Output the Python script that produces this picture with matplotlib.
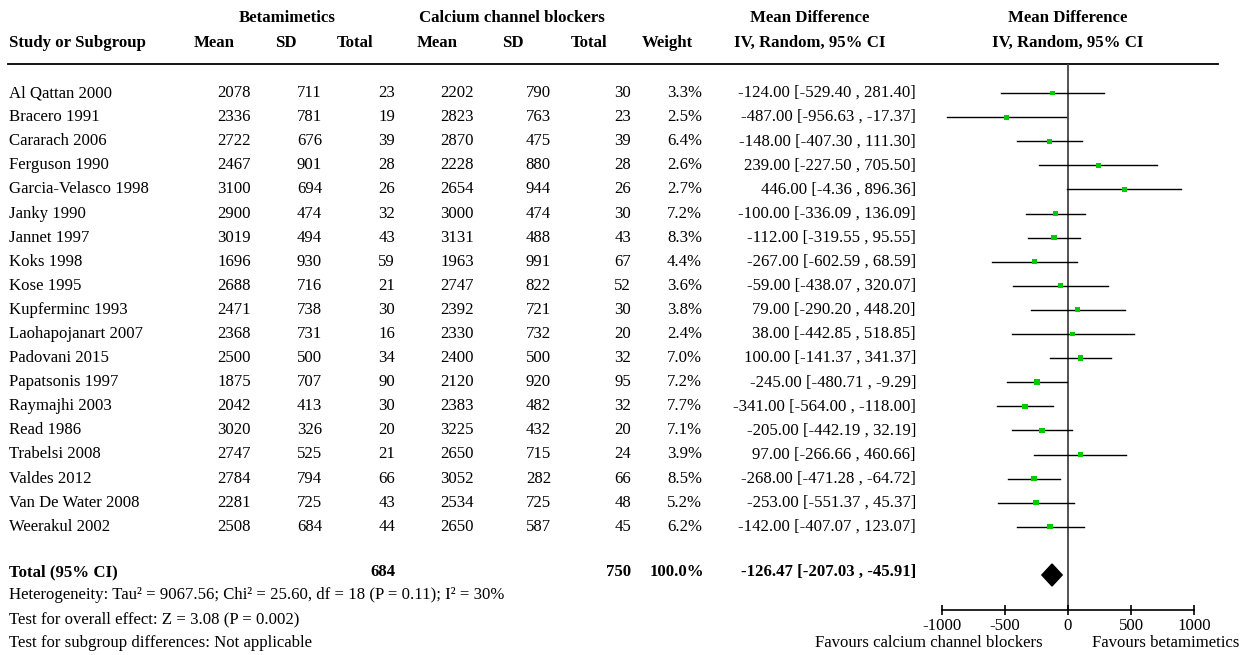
import matplotlib
matplotlib.use("Agg")
import matplotlib.pyplot as plt
from matplotlib.patches import Rectangle

plt.rcParams['font.family'] = ['Liberation Serif', 'DejaVu Serif']

studies = ["Al Qattan 2000", "Bracero 1991", "Cararach 2006", "Ferguson 1990",
           "Garcia-Velasco 1998", "Janky 1990", "Jannet 1997", "Koks 1998",
           "Kose 1995", "Kupferminc 1993", "Laohapojanart 2007", "Padovani 2015",
           "Papatsonis 1997", "Raymajhi 2003", "Read 1986", "Trabelsi 2008",
           "Valdes 2012", "Van De Water 2008", "Weerakul 2002"]
b_mean = [2078, 2336, 2722, 2467, 3100, 2900, 3019, 1696, 2688, 2471, 2368, 2500,
          1875, 2042, 3020, 2747, 2784, 2281, 2508]
b_sd = [711, 781, 676, 901, 694, 474, 494, 930, 716, 738, 731, 500, 707, 413, 326,
        525, 794, 725, 684]
b_n = [23, 19, 39, 28, 26, 32, 43, 59, 21, 30, 16, 34, 90, 30, 20, 21, 66, 43, 44]
c_mean = [2202, 2823, 2870, 2228, 2654, 3000, 3131, 1963, 2747, 2392, 2330, 2400,
          2120, 2383, 3225, 2650, 3052, 2534, 2650]
c_sd = [790, 763, 475, 880, 944, 474, 488, 991, 822, 721, 732, 500, 920, 482, 432,
        715, 282, 725, 587]
c_n = [30, 23, 39, 28, 26, 30, 43, 67, 52, 30, 20, 32, 95, 32, 20, 24, 66, 48, 45]
weight = [3.3, 2.5, 6.4, 2.6, 2.7, 7.2, 8.3, 4.4, 3.6, 3.8, 2.4, 7.0, 7.2, 7.7, 7.1,
          3.9, 8.5, 5.2, 6.2]
md = [-124.00, -487.00, -148.00, 239.00, 446.00, -100.00, -112.00, -267.00, -59.00,
      79.00, 38.00, 100.00, -245.00, -341.00, -205.00, 97.00, -268.00, -253.00, -142.00]
ci_lo = [-529.40, -956.63, -407.30, -227.50, -4.36, -336.09, -319.55, -602.59, -438.07,
         -290.20, -442.85, -141.37, -480.71, -564.00, -442.19, -266.66, -471.28, -551.37,
         -407.07]
ci_hi = [281.40, -17.37, 111.30, 705.50, 896.36, 136.09, 95.55, 68.59, 320.07, 448.20,
         518.85, 341.37, -9.29, -118.00, 32.19, 460.66, -64.72, 45.37, 123.07]
total_b_n = 684
total_c_n = 750
total_weight = "100.0%"
total_md, total_lo, total_hi = -126.47, -207.03, -45.91
xticks = [-1000, -500, 0, 500, 1000]
heterogeneity = "Heterogeneity: Tau² = 9067.56; Chi² = 25.60, df = 18 (P = 0.11); I² = 30%"
overall = "Test for overall effect: Z = 3.08 (P = 0.002)"
subgroup = "Test for subgroup differences: Not applicable"
fav_left = "Favours calcium channel blockers"
fav_right = "Favours betamimetics"

W, H = 1246, 655
fig = plt.figure(figsize=(W / 100, H / 100), dpi=100)
bg = fig.add_axes([0, 0, 1, 1])
bg.set_xlim(0, W)
bg.set_ylim(H, 0)
bg.axis('off')

FS = 12.1
y_h1, y_h2 = 18, 43
y0, dy = 93, 24.1
y_tot = 572

def t(x, y, s, ha='left', bold=False):
    bg.text(x, y, s, ha=ha, va='center', fontsize=FS,
            fontweight='bold' if bold else 'normal', color='black')

# headers
t(287, y_h1, "Betamimetics", 'center', True)
t(512, y_h1, "Calcium channel blockers", 'center', True)
t(810, y_h1, "Mean Difference", 'center', True)
t(1068, y_h1, "Mean Difference", 'center', True)
t(9, y_h2, "Study or Subgroup", 'left', True)
for x, s in [(214, "Mean"), (286, "SD"), (355, "Total"), (437, "Mean"), (513, "SD"),
             (589, "Total"), (667, "Weight"), (810, "IV, Random, 95% CI"),
             (1068, "IV, Random, 95% CI")]:
    t(x, y_h2, s, 'center', True)
bg.plot([8, 1218], [64, 64], color='black', lw=1.3)

cols_r = [251, 322, 395, 474, 551, 631, 702, 916]
for i, name in enumerate(studies):
    y = y0 + i * dy
    t(9, y, name)
    vals = [str(b_mean[i]), str(b_sd[i]), str(b_n[i]), str(c_mean[i]), str(c_sd[i]),
            str(c_n[i]), f"{weight[i]:.1f}%",
            f"{md[i]:.2f} [{ci_lo[i]:.2f} , {ci_hi[i]:.2f}]"]
    for x, s in zip(cols_r, vals):
        t(x, y, s, 'right')

t(9, y_tot, "Total (95% CI)", 'left', True)
t(395, y_tot, str(total_b_n), 'right', True)
t(631, y_tot, str(total_c_n), 'right', True)
t(704, y_tot, total_weight, 'right', True)
t(916, y_tot, f"{total_md:.2f} [{total_lo:.2f} , {total_hi:.2f}]", 'right', True)
t(9, 595, heterogeneity)
t(9, 619, overall)
t(9, 643, subgroup)

# forest axes
x_left, x_right = 941.7, 1194.3
y_top, y_axis = 64, 610
ax = fig.add_axes([x_left / W, (H - y_axis) / H, (x_right - x_left) / W, (y_axis - y_top) / H])
ax.set_xlim(-1000, 1000)
ax.set_ylim(y_axis, y_top)
ax.patch.set_alpha(0)
for s in ['top', 'right', 'left']:
    ax.spines[s].set_visible(False)
ax.spines['bottom'].set_linewidth(1.2)
ax.set_yticks([])
ax.set_xticks(xticks)
ax.set_xticklabels([str(v) for v in xticks], fontsize=FS)
ax.tick_params(axis='x', direction='inout', length=7, width=1.2, pad=2)
ax.axvline(0, color='#444444', lw=1.3, zorder=1)

# data units per pixel along x (y axis is already in pixels)
x_per_px = (ax.get_xlim()[1] - ax.get_xlim()[0]) / (x_right - x_left)

for i in range(len(studies)):
    y = y0 + i * dy
    ax.plot([ci_lo[i], ci_hi[i]], [y, y], color='black', lw=1.0, zorder=2, clip_on=False)
    side_px = 4.5 + weight[i] * 0.14
    ax.add_patch(Rectangle((md[i] - side_px * x_per_px / 2, y - side_px / 2),
                           side_px * x_per_px, side_px, facecolor='#00cc00',
                           edgecolor='none', zorder=3, clip_on=False))

ax.fill([total_lo, total_md, total_hi, total_md],
        [y_tot + 3, y_tot + 3 - 11, y_tot + 3, y_tot + 3 + 11],
        color='black', zorder=4)

t(1043, 643, fav_left, 'right')
t(1092, 643, fav_right, 'left')

fig.savefig("out.png", dpi=100)
